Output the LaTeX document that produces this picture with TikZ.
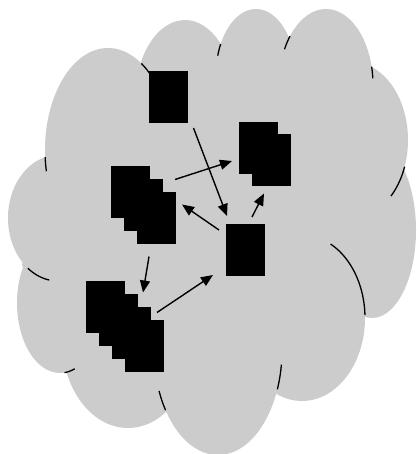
\documentclass[tikz,border=0pt]{standalone}
\usetikzlibrary{arrows.meta,calc}
\definecolor{cloudgray}{RGB}{204,204,204}
\begin{document}
\begin{tikzpicture}[x=1pt,y=-1pt,
  blk/.style={fill=black,draw=black,line width=0.4pt,minimum width=38pt,minimum height=51pt,inner sep=0pt,outer sep=0pt},
  arcline/.style={line width=1.3pt,line cap=butt},
  flow/.style={line width=1.4pt,-{Triangle[length=12pt,width=10pt]}}]
\useasboundingbox (0,0) rectangle (416,454);
% cloud body
\fill[cloudgray] (141,63) -- (221,44) -- (289,37) -- (371,67) -- (404,167) -- (364,316)
  -- (277,392) -- (165,412) -- (66,372) -- (22,265) -- (45,157) -- cycle;
\foreach \cx/\cy/\rx/\ry in {108/150/63/102, 185/100/50/80, 256/75/40/66, 326/85/47/76,
  352/140/56/78, 372/230/44/88, 302/318/63/83, 218/350/64/105, 128/340/66/88,
  60/303/43/70, 58/218/50/63}
  \fill[cloudgray] (\cx,\cy) ellipse [x radius=\rx pt, y radius=\ry pt];
% inner arcs of the cloud
\foreach \cx/\cy/\rx/\ry/\a/\b in {108/150/63/102/-58/-49, 256/75/40/66/-152/-163,
  326/85/47/76/-140/-152, 326/85/47/76/-14/-5, 352/140/56/78/20/46,
  302/318/63/83/-63/-2, 218/350/64/105/8/22, 218/350/64/105/157/145,
  60/303/43/70/84/70, 58/218/50/63/127/100, 108/150/63/102/176/168}
  \draw[arcline] plot[domain=\a:\b, samples=14, smooth, variable=\t]
    ({\cx+\rx*cos(\t)},{\cy+\ry*sin(\t)});
% blocks
\node[blk] (s1) at (168.5,96.5) {};
\node[blk] (r2a) at (258,147.5) {};
\node[blk] (r2b) at (271,160) {};
\node[blk] (r3a) at (130,192) {};
\node[blk] (r3b) at (143,205) {};
\node[blk] (r3c) at (156,218) {};
\node[blk] (r4a) at (105,307) {};
\node[blk] (r4b) at (118,320) {};
\node[blk] (r4c) at (131,333) {};
\node[blk] (r4d) at (144,346) {};
\node[blk] (s5) at (245,249.5) {};
% arrows
\draw[flow] ($(s1.south east)+(6,6)$) -- ($(s5.north west)+(1,-8)$);
\draw[flow] ($(r3c.north east)+(0,-13)$) -- ($(r2a.south west)+(-7,-12)$);
\draw[flow] ($(s5.north west)+(-7,6)$) -- ($(r3c.north east)+(7,12)$);
\draw[flow] ($(s5.north)+(7,-7)$) -- ($(r2b.south)+(-7,8)$);
\draw[flow] ($(r3c.south)+(-7,13)$) -- ($(r4b.north east)+(6,-2)$);
\draw[flow] ($(r4c.north east)+(7,5)$) -- ($(s5.south west)+(-13,0)$);
\end{tikzpicture}
\end{document}
